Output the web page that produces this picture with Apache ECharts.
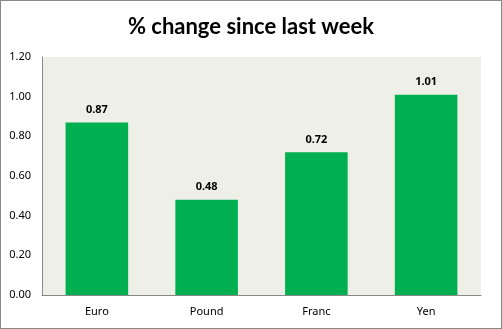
<!DOCTYPE html>
<html><head><meta charset="utf-8">
<script src="https://cdn.jsdelivr.net/npm/echarts@6/dist/echarts.min.js"></script>
<style>html,body{margin:0;padding:0;background:#fff}#c{width:502px;height:329px;box-sizing:border-box;border:1px solid #888}</style>
</head><body><div id="c"></div>
<script>
const titleText = '% change since last week';
const categories = ['Euro', 'Pound', 'Franc', 'Yen'];
const values = [0.87, 0.48, 0.72, 1.01];
const yTicks = { min: 0, max: 1.2, interval: 0.2 };

const chart = echarts.init(document.getElementById('c'), null, { renderer: 'canvas' });
chart.setOption({
  animation: false,
  title: { text: titleText, left: 'center', top: 10,
    textStyle: { fontFamily: 'Lato', fontWeight: 'bold', fontSize: 22, color: '#000' } },
  grid: { left: 41, right: 20, top: 56, bottom: 33, backgroundColor: '#eef0e8', show: true, borderWidth: 0 },
  xAxis: { type: 'category', data: categories,
    axisLine: { lineStyle: { color: '#888' } }, axisTick: { show: false },
    axisLabel: { color: '#000', fontFamily: 'Noto Sans', fontSize: 11, margin: 11 } },
  yAxis: { type: 'value', min: yTicks.min, max: yTicks.max, interval: yTicks.interval,
    splitLine: { show: false },
    axisLine: { show: true, lineStyle: { color: '#888' } }, axisTick: { show: false },
    axisLabel: { color: '#000', fontFamily: 'Noto Sans', fontSize: 11, margin: 11,
      formatter: v => v.toFixed(2) } },
  series: [{ type: 'bar', data: values, barCategoryGap: '43%',
    itemStyle: { color: '#00b050' },
    label: { show: true, position: 'top', distance: 7, color: '#000', fontWeight: 'bold',
      fontFamily: 'Noto Sans', fontSize: 11, formatter: p => p.value.toFixed(2) } }]
});
</script></body></html>
